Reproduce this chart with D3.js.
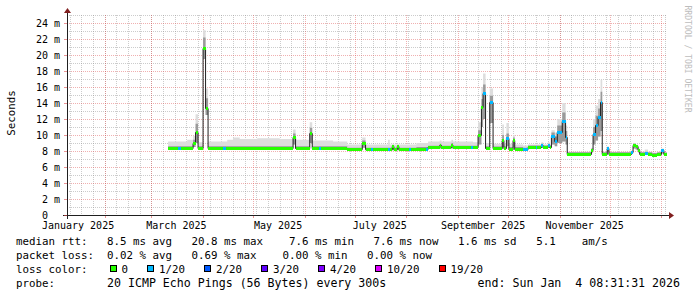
<!DOCTYPE html>
<html><head><meta charset="utf-8">
<script src="https://cdn.jsdelivr.net/npm/d3@7"></script>
<style>
html,body{margin:0;padding:0;background:#fff;}
svg{display:block;}
text{font-family:"DejaVu Sans Mono",monospace;white-space:pre;}
</style></head><body>
<svg id="chart" width="697" height="297"></svg>
<script>
// ---------------- data ----------------
const times = [
"2025-03-11T00","2025-03-17T00","2025-03-18T12","2025-03-22T12","2025-03-26T00","2025-03-27T12","2025-03-29T00",
"2025-04-01T00","2025-04-02T12","2025-04-04T00","2025-04-13T00","2025-04-14T12","2025-04-15T12","2025-04-19T00",
"2025-04-23T00","2025-05-03T12","2025-05-17T00","2025-05-25T00","2025-05-26T12","2025-06-04T00","2025-06-05T12",
"2025-06-09T12","2025-06-11T00","2025-06-18T00","2025-06-26T12","2025-07-05T12","2025-07-07T12","2025-07-11T00",
"2025-07-12T00","2025-07-21T00","2025-07-22T00","2025-07-23T12","2025-07-24T12","2025-07-26T12","2025-07-27T12",
"2025-08-02T12","2025-08-04T00","2025-08-07T00","2025-08-12T12","2025-08-14T00","2025-08-21T00","2025-08-22T00",
"2025-08-28T00","2025-08-29T00","2025-09-09T00","2025-09-10T00","2025-09-13T00","2025-09-15T00","2025-09-16T00",
"2025-09-17T12","2025-09-20T00","2025-09-22T00","2025-09-27T12","2025-09-28T12","2025-09-30T00","2025-10-01T12",
"2025-10-04T00","2025-10-05T00","2025-10-10T00","2025-10-13T00","2025-10-17T12","2025-10-18T12","2025-10-21T00",
"2025-10-22T00","2025-10-25T00","2025-10-26T00","2025-10-27T00","2025-10-29T00","2025-10-30T12","2025-11-02T12",
"2025-11-04T12","2025-11-05T12","2025-11-20T00","2025-11-21T00","2025-11-22T12","2025-11-24T00","2025-11-25T12",
"2025-11-26T12","2025-11-29T12","2025-11-30T12","2025-12-14T00","2025-12-15T00","2025-12-16T12","2025-12-18T00",
"2025-12-19T00","2025-12-22T00","2025-12-24T00","2025-12-26T12","2025-12-29T12","2026-01-01T00","2026-01-02T12"
];
const median = [
8.4,8.4,8.4,8.4,9.0,10.4,8.4,
20.9,13.4,8.4,8.4,8.4,8.4,8.4,
8.4,8.4,8.4,9.8,8.4,10.3,8.4,
8.4,8.4,8.4,8.2,9.0,8.2,8.2,
8.2,8.2,8.2,8.6,8.2,8.6,8.2,
8.2,8.2,8.3,8.3,8.45,8.7,8.45,
8.8,8.45,8.45,8.45,10.0,13.5,15.3,
8.4,14.1,8.35,9.4,8.4,9.6,8.3,
9.4,8.3,8.2,8.5,8.5,8.5,8.8,
8.5,8.8,8.5,9.9,9.2,10.4,11.7,
9.8,7.65,8.1,10.1,11.2,12.3,14.1,
7.65,8.4,7.65,7.9,8.75,8.6,8.1,
7.65,7.8,7.65,7.55,7.65,8.1,7.65
];
const loss = [
0,1,0,0,0,0,0,
0,0,0,1,0,0,0,
0,0,0,0,0,0,0,
1,0,0,0,0,0,1,
0,1,0,0,0,0,0,
1,0,0,1,0,0,0,
0,0,1,0,0,0,1,
0,1,0,0,0,1,0,
0,0,1,0,1,0,1,
0,1,0,1,1,1,1,
1,0,0,1,1,1,1,
0,1,0,1,0,0,0,
0,1,0,0,0,1,0
];
const smokeLo = [
8.25,8.25,8.25,8.25,8.5,9.0,8.25,
19.5,12.5,8.25,8.25,8.25,8.25,8.25,
8.25,8.25,8.25,8.8,8.25,9.0,8.25,
8.25,8.25,8.25,8.05,8.4,8.05,8.05,
8.05,8.05,8.05,8.1,8.05,8.1,8.05,
8.05,8.05,8.1,8.1,8.3,8.3,8.3,
8.3,8.3,8.3,8.3,8.8,11.0,12.0,
8.25,11.5,8.2,8.5,8.25,8.6,8.15,
8.5,8.15,8.05,8.35,8.35,8.35,8.4,
8.35,8.4,8.35,8.8,8.6,9.0,9.2,
8.8,7.55,7.8,8.8,9.3,9.8,10.5,
7.55,7.9,7.55,7.7,8.3,8.2,7.8,
7.55,7.6,7.55,7.45,7.55,7.7,7.55
];
const smokeHi = [
9.2,9.2,9.2,9.4,9.9,12.6,9.1,
23.1,15.8,9.2,9.2,9.2,9.4,9.7,
9.5,9.6,9.5,10.7,9.4,11.6,9.3,
9.3,9.3,9.2,8.8,9.7,8.8,8.8,
8.8,9.4,8.8,8.9,8.8,8.9,8.8,
8.8,8.8,9.0,9.0,9.2,9.3,9.2,
9.4,9.2,9.2,9.1,11.6,16.0,17.7,
9.0,15.8,8.9,11.3,8.9,11.5,8.9,
10.0,8.8,8.7,8.8,8.8,8.8,9.1,
8.8,9.1,8.8,10.6,10.3,12.0,14.0,
11.2,7.9,8.4,12.0,13.7,14.5,16.9,
7.9,8.6,7.9,8.1,9.0,8.8,8.3,
7.9,8.2,7.9,7.8,7.9,8.3,7.8
];
const smokeCore = [
8.6,8.6,8.6,8.6,9.4,11.4,8.6,
22.2,14.6,8.6,8.6,8.6,8.6,8.6,
8.6,8.6,8.6,10.2,8.6,10.9,8.6,
8.6,8.6,8.6,8.4,9.3,8.4,8.4,
8.4,8.4,8.4,8.75,8.4,8.75,8.4,
8.4,8.4,8.5,8.5,8.65,8.9,8.65,
9.0,8.65,8.65,8.65,10.6,14.5,16.3,
8.6,14.9,8.55,10.0,8.6,10.2,8.5,
9.7,8.5,8.4,8.7,8.7,8.7,8.9,
8.7,8.9,8.7,10.3,9.8,11.2,12.8,
10.5,7.85,8.3,11.0,12.4,13.3,15.4,
7.85,8.5,7.85,8.0,8.9,8.7,8.2,
7.85,7.9,7.85,7.75,7.85,8.2,7.8
];
const yTicks = [0,2,4,6,8,10,12,14,16,18,20,22,24];
const yMinor = [1,3,5,7,9,11,13,15,17,19,21,23,25];
const xLabelMonths = ["2025-01-01","2025-03-01","2025-05-01","2025-07-01","2025-09-01","2025-11-01"];
const lossLevels = ["0","1/20","2/20","3/20","4/20","10/20","19/20"];
const lossThresholds = [0,1,2,3,4,10,19];
const lossColors = ["#26ff00","#00b8ff","#0059ff","#5e00ff","#7e00ff","#dd00ff","#ff0000"];
const rttValues = ["8.5","20.8","7.6","7.6","1.6"];
const rttLabels = ["ms avg","ms max","ms min","ms now","ms sd"];
const amsValue = "5.1";
const lossValues = ["0.02","0.69","0.00","0.00"];
const lossLabels = ["% avg","% max","% min","% now"];
const probeText = "20 ICMP Echo Pings (56 Bytes) every 300s";
const endText = "end: Sun Jan  4 08:31:31 2026";
const startTime = new Date(Date.UTC(2025,0,9,8,31,31));
const endTime = new Date(Date.UTC(2026,0,4,8,31,31));

// ---------------- layout ----------------
const X0=67, X1=667, Y0=215, Y1=15;
const svg = d3.select("#chart");
const x = d3.scaleUtc().domain([startTime,endTime]).range([X0,X1]);
const y = d3.scaleLinear().domain([0,25]).range([Y0,Y1]);
const px = v => Math.round(v)+0.5;

const samples = times.map((t,i)=>({t:new Date(t+":00Z"),med:median[i],loss:loss[i],lo:smokeLo[i],hi:smokeHi[i],core:smokeCore[i]}));
const stepData = samples.concat([Object.assign({},samples[samples.length-1],{t:endTime})]);

// grid
const grid = svg.append("g");
const dash="1,1";
const minorCol="rgba(143,143,143,0.45)", majorCol="rgba(222,79,79,0.45)";
grid.selectAll(".hmin").data(yMinor).join("line")
  .attr("x1",X0).attr("x2",X1).attr("y1",d=>px(y(d))).attr("y2",d=>px(y(d)))
  .attr("stroke",minorCol).attr("stroke-dasharray",dash);
const weeks = d3.utcSaturday.range(startTime,endTime);
grid.selectAll(".vmin").data(weeks).join("line")
  .attr("x1",d=>px(x(d))).attr("x2",d=>px(x(d))).attr("y1",Y1).attr("y2",Y0)
  .attr("stroke",minorCol).attr("stroke-dasharray",dash);
grid.selectAll(".hmaj").data(yTicks.filter(d=>d>0)).join("line")
  .attr("x1",X0).attr("x2",X1).attr("y1",d=>px(y(d))).attr("y2",d=>px(y(d)))
  .attr("stroke",majorCol).attr("stroke-dasharray",dash);
const months = d3.utcMonth.range(startTime,endTime);
grid.selectAll(".vmaj").data(months).join("line")
  .attr("x1",d=>px(x(d))).attr("x2",d=>px(x(d))).attr("y1",Y1).attr("y2",Y0)
  .attr("stroke",majorCol).attr("stroke-dasharray",dash);

// smoke
const plot = svg.append("g");
plot.append("path").datum(stepData)
  .attr("d",d3.area().curve(d3.curveStepAfter).x(d=>x(d.t)).y0(d=>y(d.lo)).y1(d=>y(d.hi)))
  .attr("fill","#dddddd");
plot.append("path").datum(stepData)
  .attr("d",d3.area().curve(d3.curveStepAfter).x(d=>x(d.t)).y0(d=>y(d.lo)).y1(d=>y(d.core)))
  .attr("fill","#9a9a9a");
// median line
plot.append("path").datum(stepData)
  .attr("d",d3.line().curve(d3.curveStepAfter).x(d=>x(d.t)).y(d=>px(y(d.med))))
  .attr("fill","none").attr("stroke","#202020").attr("stroke-width",1);
// loss-coloured median markers
const lossIndex = l => { let k=0; lossThresholds.forEach((th,i)=>{ if(l>=th) k=i; }); return k; };
plot.selectAll(".mk").data(samples).join("rect")
  .attr("x",d=>x(d.t))
  .attr("width",(d,i)=>x(stepData[i+1].t)-x(d.t))
  .attr("y",d=>Math.round(y(d.med))-1)
  .attr("height",3)
  .attr("shape-rendering","crispEdges")
  .attr("fill",d=>lossColors[lossIndex(d.loss)]);

// axes
const ax = svg.append("g");
ax.append("line").attr("x1",X0-4).attr("x2",X1+4).attr("y1",Y0+0.5).attr("y2",Y0+0.5).attr("stroke","#1f1f1f");
ax.append("line").attr("x1",X0+0.5).attr("x2",X0+0.5).attr("y1",Y0+4).attr("y2",Y1-4).attr("stroke","#1f1f1f");
ax.append("path").attr("d",`M${X1+2},${Y0-3}L${X1+2},${Y0+4}L${X1+7},${Y0+0.5}Z`).attr("fill","#801f1f");
ax.append("path").attr("d",`M${X0-3},${Y1-2}L${X0+4},${Y1-2}L${X0+0.5},${Y1-7}Z`).attr("fill","#801f1f");
ax.selectAll(".xt").data(months).join("line")
  .attr("x1",d=>px(x(d))).attr("x2",d=>px(x(d))).attr("y1",Y0+1).attr("y2",Y0+3)
  .attr("stroke","rgba(222,79,79,0.6)");
ax.selectAll(".yt").data(yTicks).join("line")
  .attr("x1",X0-3).attr("x2",X0).attr("y1",d=>px(y(d))).attr("y2",d=>px(y(d)))
  .attr("stroke","rgba(222,79,79,0.6)");

// y labels
const ylab = svg.append("g").attr("font-size","10px").attr("fill","#000");
ylab.selectAll("text").data(yTicks).join("text")
  .attr("x",d=> d===0 ? 48 : 60).attr("y",d=>y(d)+3.5)
  .attr("text-anchor","end")
  .text(d=> d===0 ? "0" : d+" m");
// x labels
const fmt = d3.utcFormat("%B %Y");
svg.append("g").selectAll("text").data(xLabelMonths.map(s=>new Date(s+"T00:00Z"))).join("text")
  .attr("x",d=>x(d3.utcDay.offset(d,15))).attr("y",228.5)
  .attr("text-anchor","middle").attr("font-size","10px").attr("fill","#000")
  .text(d=>fmt(d));

// vertical title
svg.append("text").attr("transform","translate(15,113) rotate(-90)")
  .attr("text-anchor","middle").attr("font-size","10.8px").attr("fill","#000").text("Seconds");
// watermark
svg.append("text").attr("transform","translate(684.5,59) rotate(90)")
  .attr("text-anchor","middle").attr("font-size","8.1px").attr("fill","#bdbdbd").text("RRDTOOL / TOBI OETIKER");

// legend
const LX=16, FS="10.8px";
const probe = svg.append("text").attr("font-size",FS).text("0000000000").attr("x",-100).attr("y",-100);
const cw = probe.node().getComputedTextLength()/10; probe.remove();
const leg = svg.append("g").attr("font-size",FS).attr("fill","#000");
const put = (col,yy,s) => leg.append("text").attr("x",LX+col*cw).attr("y",yy).text(s);
// line 1
put(0,245,"median rtt:");
const rttCols=[14,27,42,55,68];
rttValues.forEach((v,i)=>put(rttCols[i],245,v+" "+rttLabels[i]));
put(80,245,amsValue); put(87,245,"am/s");
// line 2
put(0,259,"packet loss:");
const lossCols=[14,27,41,54];
lossValues.forEach((v,i)=>put(lossCols[i],259,v+" "+lossLabels[i]));
// line 3
put(0,273,"loss color:");
let bx = 109.5;
lossLevels.forEach((lab,i)=>{
  leg.append("rect").attr("x",Math.round(bx)+0.5).attr("y",265.5).attr("width",6).attr("height",6)
    .attr("fill",lossColors[i]).attr("stroke","#000").attr("stroke-width",1);
  const t = leg.append("text").attr("x",bx+12).attr("y",273).text(lab);
  bx = bx + 12 + t.node().getComputedTextLength() + 19;
});
// line 4 (rendered slightly wider in the reference)
put(0,287,"probe:");
put(14,287,probeText).attr("font-size","11.6px");
leg.append("text").attr("x",680).attr("y",287).attr("text-anchor","end").attr("font-size","11.6px").text(endText);
</script>
</body></html>
